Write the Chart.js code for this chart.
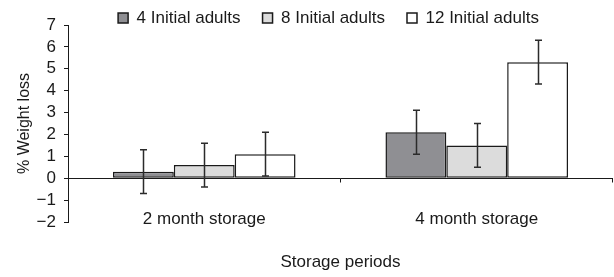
<!DOCTYPE html>
<html>
<head>
<meta charset="utf-8">
<script src="https://cdn.jsdelivr.net/npm/chart.js@4/dist/chart.umd.min.js"></script>
<style>
  html, body { margin: 0; padding: 0; background: #fff; }
  #wrap { width: 614px; height: 277px; }
</style>
</head>
<body>
<div id="wrap"><canvas id="chart" width="614" height="277"></canvas></div>
<script>
const categories = ['2 month storage', '4 month storage'];
const seriesNames = ['4 Initial adults', '8 Initial adults', '12 Initial adults'];
const adults4 = [0.3, 2.1];
const adults8 = [0.6, 1.5];
const adults12 = [1.1, 5.3];
const err4 = [1.0, 1.0];
const err8 = [1.0, 1.0];
const err12 = [1.0, 1.0];
const yTicks = [-2, -1, 0, 1, 2, 3, 4, 5, 6, 7];

const FONT = 'Arial, "Liberation Sans", sans-serif';
const INK = '#1a1a1a';
const LEGEND_PAD = 22;

// legend: keep it short so the plot starts high, and put it where the original sits
const legendPlace = {
  id: 'legendPlace',
  afterInit(chart) {
    const lg = chart.legend;
    const fit = lg.fit;
    lg.fit = function () {
      fit.call(this);
      this.height = 23;
    };
  },
  afterLayout(chart) {
    const lg = chart.legend;
    const dx = 22;
    lg.left += dx; lg.right += dx;
    lg.top = 18 - 8.5 - LEGEND_PAD;
    lg.bottom = 30;
  },
};

// zero line with small tick marks at category boundaries
const zeroLine = {
  id: 'zeroLine',
  afterDatasetsDraw(chart) {
    const { ctx, scales: { y }, chartArea } = chart;
    const y0 = Math.round(y.getPixelForValue(0)) + 0.5;
    ctx.save();
    ctx.strokeStyle = INK;
    ctx.lineWidth = 1;
    ctx.beginPath();
    ctx.moveTo(chartArea.left, y0);
    ctx.lineTo(chartArea.right, y0);
    const n = categories.length;
    for (let i = 1; i <= n; i++) {
      const px = Math.round(chartArea.left + (chartArea.right - chartArea.left) * i / n) - 0.5;
      ctx.moveTo(px, y0);
      ctx.lineTo(px, y0 + 4);
    }
    ctx.stroke();
    ctx.restore();
  },
};

// error bars drawn from the err arrays
const errorBars = {
  id: 'errorBars',
  afterDatasetsDraw(chart) {
    const { ctx, scales: { y } } = chart;
    const errs = [err4, err8, err12];
    ctx.save();
    ctx.strokeStyle = '#2b2b2b';
    ctx.lineWidth = 1.5;
    chart.data.datasets.forEach((ds, di) => {
      const meta = chart.getDatasetMeta(di);
      meta.data.forEach((bar, i) => {
        const v = ds.data[i];
        const e = errs[di][i];
        const top = y.getPixelForValue(v + e);
        const bot = y.getPixelForValue(v - e);
        const cx = Math.round(bar.x) + 0.5;
        ctx.beginPath();
        ctx.moveTo(cx, top);
        ctx.lineTo(cx, bot);
        ctx.moveTo(cx - 3.5, top);
        ctx.lineTo(cx + 3.5, top);
        ctx.moveTo(cx - 3.5, bot);
        ctx.lineTo(cx + 3.5, bot);
        ctx.stroke();
      });
    });
    ctx.restore();
  },
};

new Chart(document.getElementById('chart'), {
  type: 'bar',
  data: {
    labels: categories,
    datasets: [
      { label: seriesNames[0], data: adults4, backgroundColor: '#8f8f93' },
      { label: seriesNames[1], data: adults8, backgroundColor: '#dcdcdc' },
      { label: seriesNames[2], data: adults12, backgroundColor: '#ffffff' },
    ].map((d) => ({
      ...d,
      borderColor: INK,
      borderWidth: 1.5,
      borderSkipped: false,
      categoryPercentage: 0.67,
      barPercentage: 1,
    })),
  },
  options: {
    responsive: false,
    animation: false,
    layout: { padding: { top: 2, right: 1, left: 0, bottom: 0 } },
    plugins: {
      legend: {
        position: 'top',
        labels: {
          color: INK,
          font: { family: FONT, size: 17 },
          boxWidth: 10,
          boxHeight: 10,
          padding: LEGEND_PAD,
        },
      },
      tooltip: { enabled: false },
    },
    scales: {
      x: {
        grid: { display: false, drawTicks: false },
        border: { display: false },
        ticks: { color: INK, font: { family: FONT, size: 17 }, padding: -13 },
        afterFit(scale) {
          scale.height = 55;
          // let the category labels sit up inside the plot, as in the original
          scale._computeLabelArea = () => undefined;
        },
        title: {
          display: true,
          text: 'Storage periods',
          color: INK,
          font: { family: FONT, size: 17 },
          padding: { top: 0, bottom: 4 },
        },
      },
      y: {
        min: -2,
        max: 7,
        afterBuildTicks(scale) {
          scale.ticks = yTicks.map((v) => ({ value: v }));
        },
        afterFit(scale) { scale.width = 68; },
        grid: { display: true, drawOnChartArea: false, tickLength: 4, color: INK },
        border: { display: true, color: INK, width: 1 },
        ticks: {
          autoSkip: false,
          color: INK,
          font: { family: FONT, size: 17 },
          padding: 8,
          callback: (v) => (v < 0 ? '\u2212' + Math.abs(v) : String(v)),
        },
        title: {
          display: true,
          text: '% Weight loss',
          color: INK,
          font: { family: FONT, size: 16 },
          padding: { top: 15, bottom: 0 },
        },
      },
    },
  },
  plugins: [legendPlace, zeroLine, errorBars],
});
</script>
</body>
</html>
